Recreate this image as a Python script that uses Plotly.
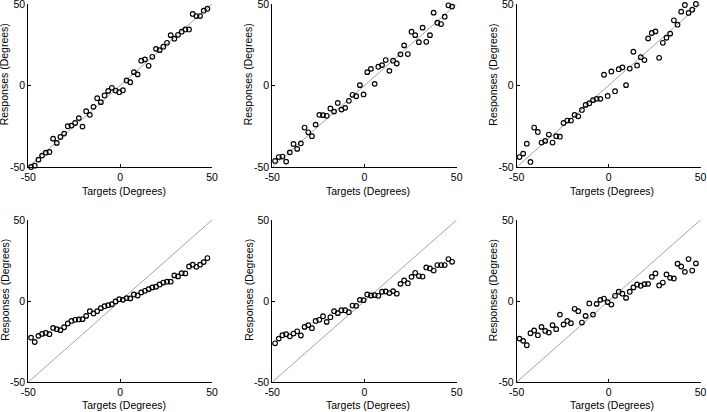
import plotly.graph_objects as go

targets = [-48.5, -46.5, -44.5, -42.5, -40.5, -38.5, -36.5, -34.5, -32.5, -30.5,
           -28.5, -26.5, -24.5, -22.5, -20.5, -18.5, -16.5, -14.5, -12.5, -10.5,
           -8.5, -6.5, -4.5, -2.5, -0.5, 1.5, 3.5, 5.5, 7.5, 9.5,
           11.5, 13.5, 15.5, 17.5, 19.5, 21.5, 23.5, 25.5, 27.5, 29.5,
           31.5, 33.5, 35.5, 37.5, 39.5, 41.5, 43.5, 45.5, 47.5]

resp_1 = [-50, -49.2, -45.5, -43, -41.2, -40.8, -32.6, -35.2, -31.6, -29.5,
          -25, -24.6, -23, -20, -25.2, -15.8, -18, -13.1, -7.8, -10.2,
          -6.1, -3.3, -1.4, -3.1, -4.1, -2.9, 3.1, 2.0, 8.2, 6.8,
          15.2, 16, 12.1, 17.6, 22.5, 21.7, 23.8, 26.2, 30.9, 28.7,
          31.1, 33, 34.4, 34.4, 43.9, 42.6, 42.6, 45.9, 47.1]

resp_2 = [-46.3, -43.9, -43.6, -46.7, -41, -35.9, -38.9, -35.5, -25.8, -28.7,
          -31.1, -24, -18, -18.2, -18.6, -14.1, -16, -10.7, -14.8, -13.7,
          -9.4, -5.7, -6.6, 0.2, -5.5, 8.2, 10.2, 1, 11.5, 12.5,
          15.6, 9, 15.2, 13.5, 19.1, 24.6, 19.3, 33, 30.9, 26.6,
          35.5, 26.8, 30.9, 44.7, 38.5, 37.7, 42.2, 49.2, 48.4]

resp_3 = [-43.9, -41.8, -35.7, -46.9, -25.8, -28.5, -35, -34, -30.1, -35,
          -31.1, -31.4, -23, -21.5, -21.5, -18, -18.9, -15, -11.9, -10.9,
          -9, -8.2, -8.2, 6.6, -6.4, 8.6, -3.5, 10, 11.1, 0.2,
          10.4, 20.7, 12.3, 17.4, 15.6, 28.9, 32.2, 33.2, 17, 26.2,
          29.3, 31.8, 40, 37.3, 45.3, 49.4, 44.5, 46.5, 50]

resp_4 = [-22.6, -25.3, -21.5, -20.3, -19.7, -20.5, -16.6, -17.4, -18, -16.2,
          -13.9, -12.3, -11.6, -11.4, -11.2, -9.2, -6.3, -7.7, -6.3, -4.4,
          -3.2, -2.6, -2, -0.3, 1.1, 0.7, 1.8, 1.6, 4, 3.4,
          5.3, 6.3, 7.3, 8.4, 8.8, 10.2, 11.4, 11.9, 11.9, 15.8,
          15.2, 17.2, 17, 21.3, 22.4, 21.1, 22.4, 24, 26.5]

resp_5 = [-26.1, -23.2, -21.1, -20.5, -21.8, -20.1, -18.7, -21.3, -16, -14.9,
          -16.8, -12.3, -11.6, -9.4, -12.9, -10, -6.3, -7.5, -5.7, -5.7,
          -6.9, -2.8, -3, 0.7, 0.5, 4, 3.4, 3.6, 3.2, 5.7,
          5.9, 4.9, 6.1, 4.5, 10.6, 12.7, 11, 14.9, 17.4, 15.4,
          15.1, 20.7, 20.1, 18.8, 22.2, 22.2, 22.2, 25.9, 24.2]

resp_6 = [-23.2, -24.6, -27.3, -19.9, -18.2, -21.1, -16, -18.5, -19.5, -14.9,
          -17.4, -8.4, -14.5, -12.3, -13.7, -4.8, -6.3, -13.3, -9.2, -1.5,
          -8.4, -1.8, 0.7, 1.5, -0.7, -2.2, 3.2, 5.7, 4.5, 1.9,
          5.7, 8.4, 10.2, 9.4, 10.4, 10.6, 14.9, 17, 9.6, 11.4,
          16.4, 14.3, 13.9, 23, 21.3, 18, 25.9, 18.8, 23.2]

identity = [-50, 50]
tick_vals = [-50, 0, 50]
tick_text = ["-50", "0", "50"]
x_title = "Targets (Degrees)"
y_title = "Responses (Degrees)"

W, H = 707, 412
col_px = [(28.3, 212.0), (272.3, 456.7), (516.7, 700.5)]
row_px = [(4.0, 167.0), (220.0, 382.0)]
xtitle_y = [191.0, 404.5]

series = [resp_1, resp_2, resp_3, resp_4, resp_5, resp_6]

fig = go.Figure()
font = dict(family="Liberation Sans, Arial, sans-serif", size=10.5, color="#000000")

for i, resp in enumerate(series):
    r, c = divmod(i, 3)
    n = i + 1
    xa = "x" if n == 1 else f"x{n}"
    ya = "y" if n == 1 else f"y{n}"
    fig.add_trace(go.Scatter(x=identity, y=identity, mode="lines",
                             line=dict(color="#8c8c8c", width=0.8),
                             xaxis=xa, yaxis=ya, showlegend=False, hoverinfo="skip"))
    fig.add_trace(go.Scatter(x=targets, y=resp, mode="markers",
                             marker=dict(symbol="circle-open", size=4.6,
                                         color="black", line=dict(width=1.2, color="black")),
                             cliponaxis=False,
                             xaxis=xa, yaxis=ya, showlegend=False))
    x0, x1 = col_px[c]
    y0, y1 = row_px[r]
    xd = [x0 / W, x1 / W]
    yd = [1 - y1 / H, 1 - y0 / H]
    axis_common = dict(range=[-50, 50], tickvals=tick_vals, ticktext=tick_text,
                       ticks="inside", ticklen=3, tickwidth=1, tickcolor="black",
                       showline=True, linecolor="black", linewidth=1, automargin=False,
                       ticklabeloverflow="allow",
                       showgrid=False, zeroline=False, tickfont=font, fixedrange=True)
    fig.update_layout(**{
        ("xaxis" if n == 1 else f"xaxis{n}"): dict(domain=xd, anchor=ya, **axis_common),
        ("yaxis" if n == 1 else f"yaxis{n}"): dict(domain=yd, anchor=xa, **axis_common),
    })
    fig.add_annotation(text=x_title, xref="paper", yref="paper",
                       x=((x0 + x1) / 2 + 3.5) / W, y=1 - xtitle_y[r] / H,
                       showarrow=False, font=font, xanchor="center", yanchor="middle")
    fig.add_annotation(text=y_title, xref="paper", yref="paper",
                       x=(x0 - 23.5) / W, y=1 - ((y0 + y1) / 2 - 11) / H, textangle=-90,
                       showarrow=False, font=font, xanchor="center", yanchor="middle")

fig.update_layout(template="none", width=W, height=H, margin=dict(l=0, r=0, t=0, b=0),
                  paper_bgcolor="white", plot_bgcolor="white", hovermode=False)

fig.write_html("out.html", config={"displayModeBar": False, "staticPlot": True},
               post_script="document.body.style.margin='0px';document.body.style.overflow='hidden';")
